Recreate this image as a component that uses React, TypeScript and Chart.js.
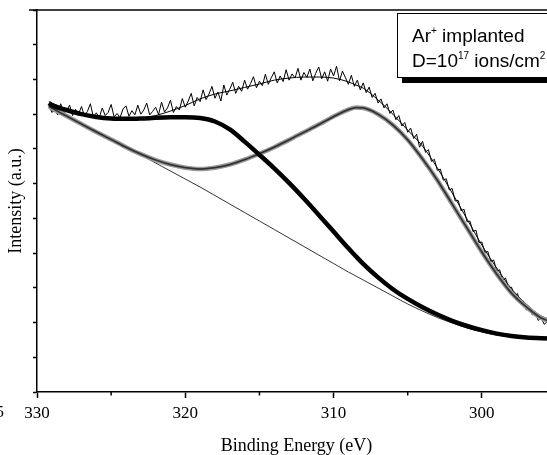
import React, { useEffect, useRef } from 'react';
import { Chart, registerables } from 'chart.js';

Chart.register(...registerables);

// Measured spectrum: first energy and step (eV), then intensities (a.u.)
const SCAN_START = 329.2;
const SCAN_STEP = 0.2;
const measured = [
  8.28, 8.05, 8.12, 7.98, 8.30, 8.02, 8.10, 8.26, 7.96, 8.14,
  8.00, 8.22, 7.95, 8.08, 8.30, 7.92, 8.04, 7.90, 8.18, 7.96,
  8.05, 8.28, 7.92, 8.02, 7.90, 8.15, 8.24, 7.94, 8.10, 7.98,
  8.26, 8.00, 8.12, 8.32, 7.98, 8.08, 8.20, 7.99, 8.35, 8.06,
  8.18, 8.40, 8.05, 8.22, 8.12, 8.45, 8.20, 8.38, 8.60, 8.24,
  8.48, 8.36, 8.70, 8.42, 8.58, 8.80, 8.46, 8.64, 8.38, 8.84,
  8.55, 8.72, 8.92, 8.60, 8.80, 8.66, 8.98, 8.72, 8.88, 9.08,
  8.76, 8.95, 8.82, 9.15, 8.86, 9.05, 9.22, 8.90, 9.10, 8.94,
  9.28, 8.98, 9.16, 9.04, 9.32, 8.98, 9.20, 9.06, 9.30, 8.96,
  9.18, 9.36, 9.02, 9.22, 8.95, 9.30, 9.10, 9.38, 8.96, 9.24,
  9.05, 8.86, 9.12, 8.80, 8.98, 8.70, 8.90, 8.62, 8.78, 8.48,
  8.60, 8.32, 8.44, 8.18, 8.30, 8.02, 8.12, 7.84, 7.96, 7.66,
  7.76, 7.48, 7.60, 7.30, 7.42, 7.05, 7.22, 6.90, 6.98, 6.64,
  6.70, 6.38, 6.42, 6.10, 6.14, 5.82, 5.86, 5.50, 5.52, 5.22,
  5.26, 4.90, 4.92, 4.62, 4.66, 4.30, 4.32, 4.02, 4.05, 3.76,
  3.80, 3.48, 3.52, 3.22, 3.28, 2.98, 3.02, 2.76, 2.84, 2.56,
  2.62, 2.36, 2.42, 2.22, 2.28, 2.06, 2.14, 1.95, 2.02, 1.88,
];

// Fitted curves, sampled at these energies (eV)
const fitEnergy = [
  329.2, 329, 328, 327, 326, 325, 324, 323, 322, 321, 320, 319, 318, 317, 316, 315,
  314, 313, 312, 311, 310, 309, 308.5, 308, 307, 306, 305, 304, 303, 302, 301, 300,
  299, 298, 297, 296, 295,
];
const envelope = [
  8.36, 8.32, 8.16, 8.03, 7.93, 7.88, 7.85, 7.88, 7.96, 8.09, 8.25, 8.44, 8.58, 8.67, 8.77, 8.87,
  8.98, 9.04, 9.07, 9.07, 9.04, 8.93, 8.84, 8.75, 8.41, 8.00, 7.54, 7.08, 6.45, 5.73, 4.98, 4.23,
  3.57, 2.97, 2.53, 2.19, 2.04,
];
const peakHigh = [
  8.32, 8.26, 8.12, 8.00, 7.92, 7.875, 7.865, 7.875, 7.895, 7.91, 7.915, 7.89, 7.79, 7.56, 7.21, 6.83,
  6.44, 6.02, 5.57, 5.10, 4.62, 4.14, 3.91, 3.69, 3.30, 2.96, 2.68, 2.44, 2.23, 2.05, 1.90, 1.78,
  1.68, 1.61, 1.57, 1.55, 1.54,
];
const peakLow = [
  8.235, 8.177, 7.947, 7.717, 7.49, 7.27, 7.05, 6.85, 6.68, 6.55, 6.46, 6.42, 6.46, 6.55, 6.69, 6.86,
  7.05, 7.26, 7.48, 7.70, 7.93, 8.13, 8.19, 8.18, 8.00, 7.69, 7.26, 6.71, 6.10, 5.41, 4.72, 4.03,
  3.40, 2.85, 2.45, 2.13, 1.99,
];
const background = [
  8.163, 8.12, 7.904, 7.688, 7.472, 7.256, 7.04, 6.824, 6.594, 6.363, 6.133, 5.902, 5.658, 5.413, 5.168, 4.924,
  4.679, 4.434, 4.189, 3.944, 3.7, 3.455, 3.34, 3.225, 2.994, 2.764, 2.534, 2.332, 2.145, 1.987, 1.843, 1.728,
  1.641, 1.584, 1.54, 1.526, 1.512,
];

const X_MIN = 295;
const X_MAX = 330;
const Y_MIN = 0;
const Y_MAX = 11;
const majorTicks = [330, 320, 310, 300];
const minorTicks = [325, 315, 305];
const cutLabel = '5';

const serif = '"Liberation Serif", "Times New Roman", serif';
const sans = '"Liberation Sans", Arial, sans-serif';

function pts(values: number[]) {
  return values.map((v, i) => ({ x: fitEnergy[i], y: v }));
}

const decorations = {
  id: 'decorations',
  afterDraw(chart: any) {
    const { ctx, chartArea, scales } = chart;
    const xs = scales.x;
    ctx.save();
    ctx.strokeStyle = '#000';
    ctx.lineWidth = 1.5;
    // top frame line
    ctx.beginPath();
    ctx.moveTo(chartArea.left - 8, chartArea.top);
    ctx.lineTo(chartArea.right, chartArea.top);
    ctx.stroke();
    // minor x ticks
    minorTicks.forEach((v) => {
      const px = xs.getPixelForValue(v);
      ctx.beginPath();
      ctx.moveTo(px, chartArea.bottom);
      ctx.lineTo(px, chartArea.bottom + 3.5);
      ctx.stroke();
    });
    // cut-off label of a neighbouring panel
    ctx.fillStyle = '#000';
    ctx.font = '17px ' + serif;
    ctx.textAlign = 'right';
    ctx.textBaseline = 'middle';
    ctx.fillText(cutLabel, 4, chartArea.bottom + 21);

    // legend box with shadow
    const bx = chartArea.right - 159;
    const by = chartArea.top + 3;
    const bw = 220;
    const bh = 64;
    ctx.fillStyle = '#000';
    ctx.fillRect(bx + 5, by + 6, bw, bh);
    ctx.fillStyle = '#fff';
    ctx.fillRect(bx, by, bw, bh);
    ctx.lineWidth = 1;
    ctx.strokeRect(bx + 0.5, by + 0.5, bw, bh);

    ctx.fillStyle = '#000';
    ctx.textAlign = 'left';
    ctx.textBaseline = 'alphabetic';
    const big = '19px ' + sans;
    const small = '10px ' + sans;
    const runs = (parts: [string, boolean][], x0: number, base: number) => {
      let x = x0;
      parts.forEach(([t, sup]) => {
        ctx.font = sup ? small : big;
        ctx.fillText(t, x, sup ? base - 8 : base);
        x += ctx.measureText(t).width;
      });
    };
    runs([['Ar', false], ['+', true], [' implanted', false]], bx + 15, by + 29);
    runs([['D=10', false], ['17', true], [' ions/cm', false], ['2', true]], bx + 15, by + 54);
    ctx.restore();
  },
};

export default function App() {
  const ref = useRef<HTMLCanvasElement | null>(null);

  useEffect(() => {
    if (!ref.current) return;
    const measuredPts = measured.map((v, i) => ({
      x: Math.round((SCAN_START - i * SCAN_STEP) * 10) / 10,
      y: v,
    }));
    const smooth = { pointRadius: 0, cubicInterpolationMode: 'monotone' as const, fill: false };
    const chart = new Chart(ref.current, {
      type: 'line',
      data: {
        datasets: [
          { data: pts(peakHigh), borderColor: '#000', borderWidth: 4.5, ...smooth },
          { data: pts(peakLow), borderColor: '#333', borderWidth: 1.8, ...smooth },
          { data: pts(peakLow), borderColor: '#9a9a9a', borderWidth: 4.5, ...smooth },
          { data: pts(envelope), borderColor: '#000', borderWidth: 1, ...smooth },
          { data: measuredPts, borderColor: '#000', borderWidth: 1, pointRadius: 0, tension: 0, fill: false },
          { data: pts(background), borderColor: '#000', borderWidth: 0.8, ...smooth },
        ],
      },
      options: {
        responsive: false,
        animation: false,
        events: [],
        layout: { padding: { left: 0, top: 10, right: 4, bottom: 0 } },
        plugins: { legend: { display: false }, tooltip: { enabled: false } },
        scales: {
          x: {
            type: 'linear',
            reverse: true,
            min: X_MIN,
            max: X_MAX,
            afterBuildTicks: (scale: any) => {
              scale.ticks = majorTicks.map((v) => ({ value: v }));
            },
            afterFit: (scale: any) => {
              scale.height = 63;
            },
            border: { display: true, color: '#000', width: 1.5 },
            grid: {
              display: true,
              drawOnChartArea: false,
              drawTicks: true,
              tickLength: 6,
              tickWidth: 1.5,
              tickColor: '#000',
            },
            ticks: {
              autoSkip: false,
              maxRotation: 0,
              padding: 5,
              color: '#000',
              font: { family: serif, size: 17, lineHeight: 1.2 },
              callback: (v: any) => String(v),
            },
            title: {
              display: true,
              text: 'Binding Energy (eV)',
              color: '#000',
              font: { family: serif, size: 18, lineHeight: 1 },
              padding: { top: 0, bottom: 0 },
            },
          },
          y: {
            type: 'linear',
            min: Y_MIN,
            max: Y_MAX,
            afterFit: (scale: any) => {
              scale.width = 37;
            },
            border: { display: true, color: '#000', width: 1.5 },
            grid: {
              display: true,
              drawOnChartArea: false,
              drawTicks: true,
              tickLength: 4,
              tickWidth: 1.5,
              tickColor: '#000',
            },
            ticks: { display: false, stepSize: 1 },
            title: {
              display: true,
              text: 'Intensity (a.u.)',
              color: '#000',
              font: { family: serif, size: 18, lineHeight: 1 },
              padding: { top: 7, bottom: 0 },
            },
          },
        },
      },
      plugins: [decorations],
    });
    return () => chart.destroy();
  }, []);

  return (
    <div
      style={{
        position: 'fixed',
        left: 0,
        top: 0,
        width: 547,
        height: 455,
        overflow: 'hidden',
        background: '#fff',
      }}
    >
      <canvas ref={ref} width={560} height={455} style={{ display: 'block' }} />
    </div>
  );
}
